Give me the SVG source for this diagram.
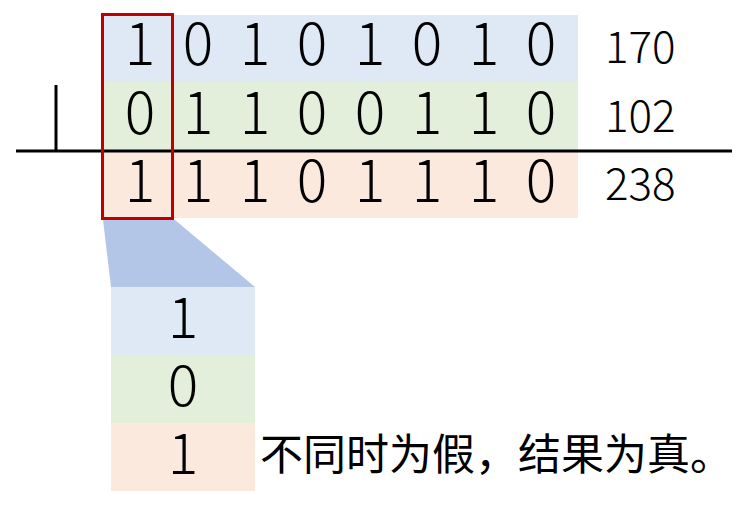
<svg xmlns="http://www.w3.org/2000/svg" width="750" height="508" viewBox="0 0 750 508">
<style>
.d{font-family:"Noto Sans CJK SC","Noto Sans",sans-serif;font-size:57px;font-weight:300;fill:#000;text-anchor:middle}
.n{font-family:"Noto Sans CJK SC","Noto Sans",sans-serif;font-size:44px;font-weight:300;fill:#000}
.t{font-family:"Noto Sans CJK SC",sans-serif;font-size:43px;fill:#000}
.b{fill:#dee9f5}.g{fill:#e3efdb}.o{fill:#fce9de}
</style>
<rect width="750" height="508" fill="#fff"/>
<g id="row1">
<rect class="b" x="102" y="15" width="476" height="67"/>
<text class="d" y="65"><tspan x="140">1</tspan><tspan x="198">0</tspan><tspan x="255">1</tspan><tspan x="312">0</tspan><tspan x="370">1</tspan><tspan x="427">0</tspan><tspan x="484">1</tspan><tspan x="541">0</tspan></text>
<text class="n" x="605" y="63">170</text>
</g>
<g id="row2">
<rect class="g" x="102" y="82" width="476" height="68"/>
<text class="d" y="134"><tspan x="140">0</tspan><tspan x="198">1</tspan><tspan x="255">1</tspan><tspan x="312">0</tspan><tspan x="370">0</tspan><tspan x="427">1</tspan><tspan x="484">1</tspan><tspan x="541">0</tspan></text>
<text class="n" x="605" y="132">102</text>
</g>
<g id="row3">
<rect class="o" x="102" y="150" width="476" height="68"/>
<text class="d" y="202"><tspan x="140">1</tspan><tspan x="198">1</tspan><tspan x="255">1</tspan><tspan x="312">0</tspan><tspan x="370">1</tspan><tspan x="427">1</tspan><tspan x="484">1</tspan><tspan x="541">0</tspan></text>
<text class="n" x="605" y="200">238</text>
</g>
<g id="lines" stroke="#000" stroke-width="3">
<line x1="16" y1="151" x2="732" y2="151"/>
<line x1="56" y1="85" x2="56" y2="151"/>
</g>
<g id="zoom">
<polygon points="103,220 175,220 255,287 111,287" fill="#b4c6e7"/>
</g>
<rect id="highlight" x="102.5" y="14.5" width="70" height="204" fill="none" stroke="#c00000" stroke-width="3"/>
<g id="detail">
<rect class="b" x="111" y="287" width="144" height="68"/>
<rect class="g" x="111" y="355" width="144" height="68"/>
<rect class="o" x="111" y="423" width="144" height="68"/>
<text class="d" x="183" y="338">1</text>
<text class="d" x="183" y="406">0</text>
<text class="d" x="183" y="474">1</text>
</g>
<text class="t" x="260" y="470">不同时为假，结果为真。</text>
</svg>
